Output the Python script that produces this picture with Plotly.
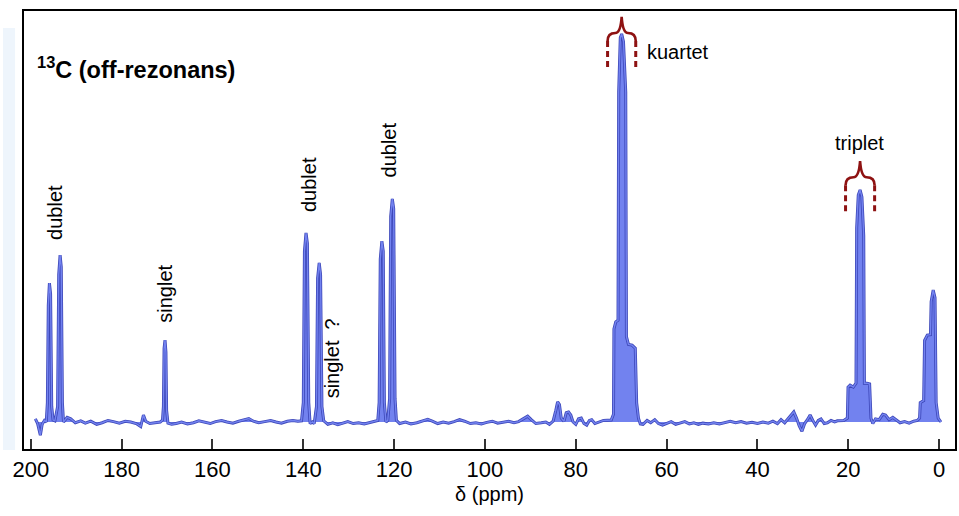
import plotly.graph_objects as go

# ---------------- data ----------------
ppm = [
    199.0, 198.5, 197.9, 197.5, 197.0, 196.6,
    196.35, 196.15, 195.9, 195.65, 195.4, 195.1, 194.7,
    194.1, 193.85, 193.55, 193.3, 193.05, 192.8,
    192.0, 191.2, 190.2, 189.0, 188.0, 186.8, 185.5, 184.3, 183.0, 181.8,
    180.5, 179.2, 178.0, 176.8, 175.8, 175.2, 174.7, 173.8, 172.8, 171.5,
    171.0, 170.8, 170.65, 170.45, 170.25, 170.1, 169.8,
    169.0, 168.0, 166.8, 165.5, 164.2, 163.0, 161.8, 160.5, 159.3, 158.0,
    156.8, 155.5, 154.2, 153.0, 152.0, 151.0, 149.8, 148.5, 147.2, 146.0,
    144.8, 143.5, 142.3, 141.2, 140.4,
    140.0, 139.75, 139.4, 139.1, 138.8, 138.5, 138.0, 137.6,
    137.1, 136.85, 136.5, 136.2, 135.9, 135.5,
    134.6, 133.5, 132.4, 131.3, 130.2, 129.0, 127.8, 126.6, 125.4, 124.3, 123.6,
    123.3, 123.05, 122.7, 122.4, 122.15, 121.8, 121.4,
    121.0, 120.75, 120.4, 120.1, 119.8, 119.5,
    118.8, 117.5, 116.3, 115.0, 113.8, 112.6, 111.6, 110.4, 109.2, 108.0,
    106.8, 105.6, 104.5, 103.2, 102.0, 100.8, 99.6, 98.4, 97.2, 96.0,
    94.8, 93.6, 92.6, 91.6, 90.6, 89.8, 88.8, 87.6, 86.6, 85.8,
    85.0, 84.4, 84.0, 83.6, 83.2, 82.6, 82.1, 81.6, 81.1, 80.6,
    80.0, 79.4, 78.8, 78.2, 77.6, 77.0, 76.5, 75.8, 75.2, 74.6, 73.9,
    72.2, 71.7, 71.6, 71.2, 70.7, 70.55, 70.2, 69.9, 69.5, 69.0,
    68.85, 68.4, 67.6, 66.9, 66.6, 66.2, 65.8,
    65.2, 64.3, 63.5, 62.6, 61.8, 60.9, 60.0, 59.0, 58.0, 57.0,
    56.0, 55.0, 54.0, 53.0, 52.0, 50.8, 49.6, 48.4, 47.2, 46.0,
    44.8, 43.6, 42.4, 41.2, 40.0, 38.8, 37.6, 36.6, 35.6, 34.8,
    34.0, 33.2, 32.6, 32.0, 31.4, 30.8, 30.2, 29.6, 29.0, 28.4,
    27.8, 27.2, 26.6, 26.0, 25.3, 24.6, 23.8, 23.0, 22.4,
    21.0, 20.2, 20.05, 19.6, 18.9, 18.3, 18.15, 17.8, 17.4, 17.0,
    16.6, 16.45, 15.9, 15.3, 15.0, 14.6,
    14.0, 13.2, 12.4, 11.8, 11.0, 10.2, 9.4, 8.6, 7.6, 6.6, 5.6, 4.8,
    4.3, 4.15, 3.4, 3.2, 2.6, 1.9, 1.75, 1.3, 0.9, 0.65, 0.2, -0.4,
]
intensity = [
    0.008, -0.004, -0.034, -0.006, 0.004, 0.0,
    0.05, 0.30, 0.358, 0.33, 0.04, 0.005, 0.003,
    0.04, 0.38, 0.43, 0.40, 0.05, 0.0,
    0.012, 0.008, -0.002, 0.003, -0.003, 0.002, -0.006, -0.002, 0.004, 0.001,
    -0.003, 0.002, 0.0, -0.004, -0.012, 0.018, 0.002, -0.004, -0.002, 0.0,
    0.005, 0.04, 0.19, 0.211, 0.18, 0.03, -0.003,
    -0.006, -0.004, 0.0, -0.005, -0.002, 0.003, -0.001, -0.004, 0.001, 0.004,
    0.0, -0.003, 0.002, 0.006, 0.009, 0.002, -0.002, 0.001, 0.004, 0.0,
    -0.003, 0.002, 0.004, 0.002, 0.003,
    0.05, 0.44, 0.487, 0.46, 0.05, -0.004, 0.0, -0.004,
    0.04, 0.37, 0.41, 0.38, 0.04, 0.003,
    -0.006, -0.002, -0.007, -0.003, 0.001, -0.004, -0.002, -0.005, -0.001, 0.002, 0.004,
    0.05, 0.42, 0.466, 0.44, 0.05, 0.0, 0.004,
    0.06, 0.53, 0.575, 0.55, 0.06, 0.004,
    -0.004, 0.0, -0.005, -0.002, 0.003, 0.007, 0.002, -0.004, 0.0, -0.003,
    0.001, 0.006, 0.002, -0.004, -0.002, -0.005, -0.001, 0.002, -0.003, -0.001,
    0.002, -0.002, 0.001, 0.008, 0.015, 0.006, -0.004, -0.002, 0.0, -0.006,
    0.002, 0.03, 0.052, 0.045, 0.01, 0.002, 0.024, 0.026, 0.018, 0.0,
    -0.006, 0.008, 0.01, -0.004, -0.008, 0.004, 0.006, -0.004, -0.002, 0.001, 0.004,
    0.005, 0.02, 0.24, 0.258, 0.262, 0.85, 0.99, 1.0, 0.98, 0.85,
    0.22, 0.20, 0.198, 0.19, 0.05, 0.01, -0.005,
    -0.006, 0.004, -0.002, 0.006, -0.004, -0.008, -0.003, 0.001, -0.006, -0.003,
    0.001, -0.005, -0.002, -0.006, -0.003, -0.005, -0.002, -0.005, -0.001, 0.002,
    -0.002, 0.001, -0.003, -0.001, -0.004, 0.0, -0.003, 0.002, -0.004, 0.006,
    -0.002, 0.01, 0.02, 0.026, 0.01, -0.01, -0.024, -0.004, 0.006, 0.018,
    0.004, -0.008, 0.004, 0.008, -0.004, -0.002, 0.004, 0.0, 0.003,
    0.004, 0.01, 0.09, 0.095, 0.09, 0.10, 0.50, 0.585, 0.598, 0.58,
    0.48, 0.10, 0.10, 0.098, 0.01, -0.004,
    0.008, 0.006, 0.02, 0.018, 0.006, 0.012, 0.004, -0.002, 0.001, -0.003, 0.002, 0.004,
    0.01, 0.05, 0.055, 0.21, 0.224, 0.225, 0.31, 0.34, 0.32, 0.05, 0.01, 0.0,
]

tick_values = [200, 180, 160, 140, 120, 100, 80, 60, 40, 20, 0]
tick_labels = ["200", "180", "160", "140", "120", "100", "80", "60", "40", "20", "0"]

# peak labels: text, ppm, intensity, rotation
label_texts = ["dublet", "singlet", "dublet", "singlet  ?", "dublet", "kuartet", "triplet"]
label_ppm = [194.7, 170.5, 138.7, 133.6, 121.1, 57.4, 17.6]
label_int = [0.541, 0.33, 0.611, 0.165, 0.70, 0.954, 0.719]
label_rot = [-90, -90, -90, -90, -90, 0, 0]

# braces over multiplets: centre ppm, half width (ppm), cusp top, leg bottom
brace_ppm = [69.9, 17.4]
brace_half = [3.1, 3.2]
brace_top = [1.044, 0.672]
brace_leg_end = [0.905, 0.534]

FONT = "Arial, Liberation Sans, sans-serif"
RED = "#8e1212"

fig = go.Figure()
fig.add_trace(go.Scatter(x=ppm, y=intensity, mode="lines", fill="tozeroy",
                         fillcolor="#7282ef",
                         line=dict(color="#3d47b8", width=3.0),
                         hoverinfo="skip", showlegend=False))
fig.add_trace(go.Scatter(x=ppm, y=intensity, mode="lines",
                         line=dict(color="#7383f0", width=1.4),
                         hoverinfo="skip", showlegend=False))

for t, xp, yp, rot in zip(label_texts, label_ppm, label_int, label_rot):
    fig.add_annotation(x=xp, y=yp, text=t, showarrow=False, textangle=rot,
                       xanchor="center", yanchor="middle",
                       font=dict(family=FONT, size=20, color="black"))

fig.add_annotation(xref="paper", yref="paper", x=0.012, y=0.87,
                   text="<b><sup>13</sup>C (off-rezonans)</b>", showarrow=False,
                   xanchor="left", yanchor="middle",
                   font=dict(family=FONT, size=23.5, color="black"))

# braces
for c, h, top, bot in zip(brace_ppm, brace_half, brace_top, brace_leg_end):
    xl, xr = c + h, c - h
    span = top - bot
    y_sh = top - 0.30 * span   # shoulder height (horizontal part)
    y_end = top - 0.45 * span  # end of the solid curve
    path = (f"M {xl},{y_end} Q {xl},{y_sh} {c + 0.45*h},{y_sh} "
            f"Q {c + 0.08*h},{y_sh} {c},{top} "
            f"Q {c - 0.08*h},{y_sh} {c - 0.45*h},{y_sh} "
            f"Q {xr},{y_sh} {xr},{y_end}")
    fig.add_shape(type="path", path=path, xref="x", yref="y",
                  line=dict(color=RED, width=2.6))
    for xx in (xl, xr):
        fig.add_shape(type="line", x0=xx, x1=xx, y0=y_end, y1=bot, xref="x", yref="y",
                      line=dict(color=RED, width=3, dash="6px,4px"))

# faint scan stripe at the left edge
fig.add_shape(type="rect", xref="paper", yref="paper", x0=-0.0225, x1=-0.0096,
              y0=-0.002, y1=0.961, line=dict(width=0), fillcolor="#eef5fc", layer="below")

fig.update_xaxes(range=[201.5, -3.5], tickvals=tick_values, ticktext=tick_labels,
                 ticks="inside", ticklen=10, tickwidth=2, tickcolor="#333333",
                 showline=True, mirror=True, linecolor="black", linewidth=1.5,
                 showgrid=False, zeroline=False, ticklabelstandoff=0,
                 tickfont=dict(family=FONT, size=22, color="black"),
                 title=dict(text="δ (ppm)", standoff=6,
                            font=dict(family=FONT, size=20, color="black")))
fig.update_yaxes(range=[-0.0696, 1.059], showticklabels=False, ticks="",
                 showline=True, mirror=True, linecolor="black", linewidth=1.5,
                 showgrid=False, zeroline=False)

fig.update_layout(width=959, height=516, margin=dict(l=24, r=2, t=11, b=67),
                  paper_bgcolor="white", plot_bgcolor="white")

fig.write_html("out.html")
